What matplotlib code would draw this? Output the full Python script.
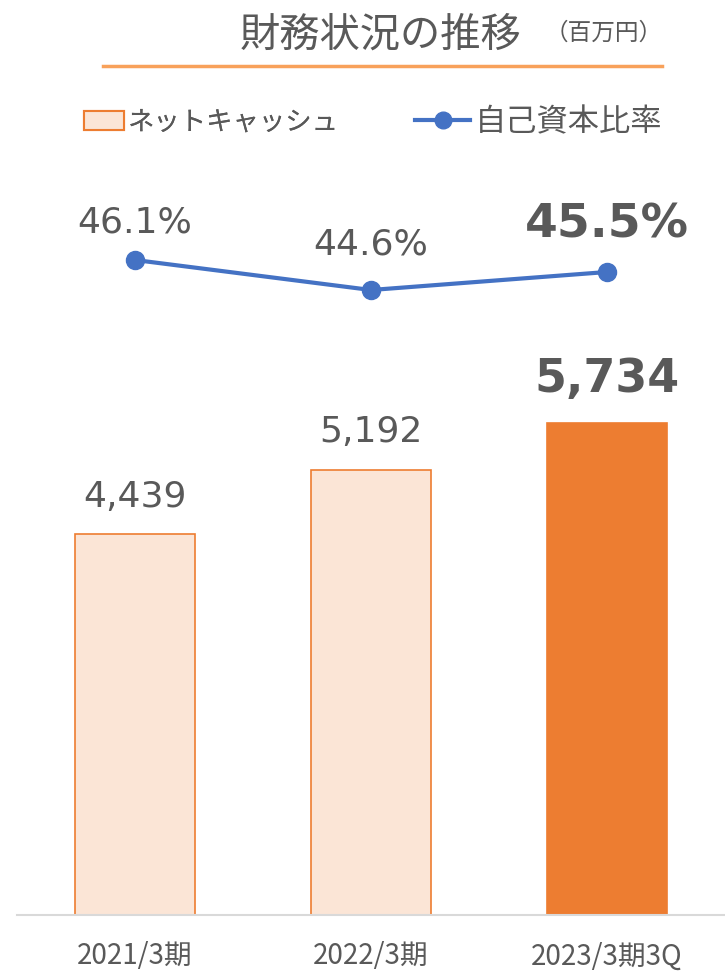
import matplotlib
matplotlib.use('Agg')
import matplotlib.pyplot as plt
from matplotlib.patches import Patch
from matplotlib.lines import Line2D
import numpy as np

# ==============================
# DATA
# ==============================
periods = ['2021/3期', '2022/3期', '2023/3期3Q']
net_cash = [4439, 5192, 5734]
equity_ratio = [46.1, 44.6, 45.5]
cash_labels = ['4,439', '5,192', '5,734']
ratio_labels = ['46.1%', '44.6%', '45.5%']

# styling
GREY = '#595959'
ORANGE = '#ED7D31'
PEACH = '#FBE5D6'
BLUE = '#4472C4'
highlight = [False, False, True]
ratio_offsets = [27, 33, 34]   # label offset above point (pt)

plt.rcParams['font.family'] = ['Noto Sans CJK JP', 'DejaVu Sans']
NUM_FONT = 'DejaVu Sans'

W, H = 725, 973
fig = plt.figure(figsize=(W / 100, H / 100), dpi=100)


def px_axes(left, top, right, bottom):
    return fig.add_axes([left / W, 1 - bottom / H, (right - left) / W, (bottom - top) / H])


# ==============================
# BARS (net cash)
# ==============================
ax = px_axes(17, 180, 725, 915)
x = np.arange(len(periods))
face = [ORANGE if h else PEACH for h in highlight]
ax.bar(x, net_cash, width=0.51, color=face, edgecolor=ORANGE, linewidth=1.2, zorder=2)
ax.set_xlim(-0.5, 2.5)
ax.set_ylim(0, 8566)

for xi, v, lab, h in zip(x, net_cash, cash_labels, highlight):
    ax.annotate(lab, (xi, v), xytext=(0, 31 if h else 27), textcoords='offset points',
                ha='center', va='center', color=GREY, family=NUM_FONT,
                fontsize=33 if h else 26, fontweight='bold' if h else 'normal')

for s in ['top', 'right', 'left']:
    ax.spines[s].set_visible(False)
ax.spines['bottom'].set_color('#D9D9D9')
ax.spines['bottom'].set_linewidth(1.5)
ax.set_yticks([])
ax.set_xticks(x)
ax.set_xticklabels(periods, fontsize=20, color=GREY)
ax.tick_params(axis='x', length=0, pad=19)

# ==============================
# LINE (equity ratio)
# ==============================
ax2 = ax.twinx()
ax2.plot(x, equity_ratio, color=BLUE, linewidth=3, marker='o', markersize=13, zorder=3)
ax2.set_ylim(13.35, 50.1)
ax2.axis('off')
for xi, v, lab, h, off in zip(x, equity_ratio, ratio_labels, highlight, ratio_offsets):
    ax2.annotate(lab, (xi, v), xytext=(0, off), textcoords='offset points',
                 ha='center', va='center', color=GREY, family=NUM_FONT,
                 fontsize=34 if h else 26, fontweight='bold' if h else 'normal')

# ==============================
# TITLE + UNDERLINE
# ==============================
fig.text(240 / W, 1 - 35 / H, '財務状況の推移', fontsize=29, color=GREY, ha='left', va='center')
fig.text(545 / W, 1 - 33 / H, '（百万円）', fontsize=17, color=GREY, ha='left', va='center')
fig.add_artist(Line2D([103 / W, 662 / W], [1 - 66 / H, 1 - 66 / H], color='#F8A15A', linewidth=2.5))

# ==============================
# LEGEND (two single-entry legends so each label can be sized)
# ==============================
leg1 = fig.legend([Patch(facecolor=PEACH, edgecolor=ORANGE, linewidth=1.5)], ['ネットキャッシュ'],
                  loc='center left', bbox_to_anchor=(84 / W, 1 - 122 / H), frameon=False,
                  fontsize=19, labelcolor=GREY, handlelength=1.52, handleheight=0.72,
                  handletextpad=0.15, borderaxespad=0, borderpad=0)
fig.add_artist(leg1)
fig.legend([Line2D([], [], color=BLUE, linewidth=3, marker='o', markersize=12)], ['自己資本比率'],
           loc='center left', bbox_to_anchor=(415 / W, 1 - 122 / H), frameon=False,
           fontsize=22.5, labelcolor=GREY, handlelength=1.76,
           handletextpad=0.16, borderaxespad=0, borderpad=0)

plt.savefig('out.png', dpi=100)
